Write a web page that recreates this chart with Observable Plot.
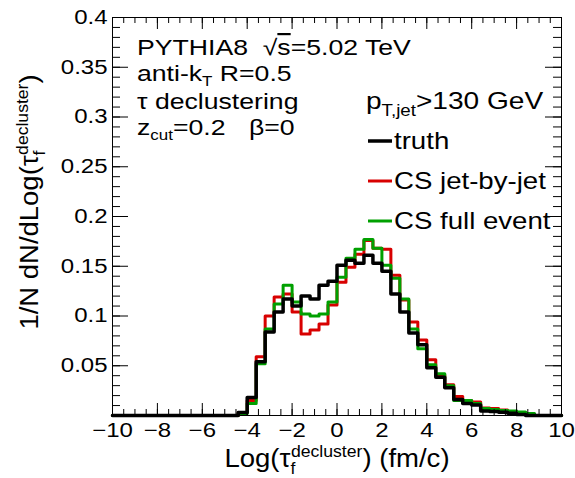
<!DOCTYPE html>
<html><head><meta charset="utf-8">
<script src="https://cdn.jsdelivr.net/npm/d3@7"></script>
<script src="https://cdn.jsdelivr.net/npm/@observablehq/plot@0.6"></script>
<style>
body{margin:0;background:#fff;}
#chart svg{font-family:"Liberation Sans",Arial,Helvetica,sans-serif;}
</style></head><body><div id="chart"></div>
<script>
// Histogram binning: 50 bins of width 0.4 from -10 to 10
const binStart = -10;
const binWidth = 0.4;
const truth = [0,0,0,0,0,0,0,0,0,0,0,0,0,0,
  0.003,0.018,0.054,0.084,0.104,0.117,0.110,0.120,0.117,0.131,0.135,0.151,0.156,0.153,0.161,0.153,0.145,0.122,0.104,0.083,0.071,0.048,0.0385,0.028,0.016,0.012,0.0105,0.0045,0.004,0.0033,0.0023,0.001,0,
  0,0,0];
const csJetByJet = [0,0,0,0,0,0,0,0,0,0,0,0,0,0,
  0.003,0.015,0.059,0.100,0.119,0.122,0.104,0.082,0.086,0.092,0.111,0.134,0.149,0.162,0.176,0.168,0.167,0.141,0.116,0.094,0.076,0.056,0.041,0.031,0.019,0.015,0.0135,0.0075,0.007,0.0055,0.004,0.003,0.001,
  0,0,0];
const csFullEvent = [0,0,0,0,0,0,0,0,0,0,0,0,0,0,
  0.002,0.012,0.052,0.087,0.112,0.131,0.114,0.102,0.100,0.102,0.114,0.139,0.158,0.167,0.177,0.168,0.151,0.138,0.117,0.087,0.067,0.051,0.042,0.030,0.015,0.015,0.012,0.007,0.006,0.005,0.0045,0.0035,0.002,
  0,0,0];
const xTickLabels = [-10,-8,-6,-4,-2,0,2,4,6,8,10];
const yTickLabels = [0.05,0.1,0.15,0.2,0.25,0.3,0.35,0.4];
const seriesNames = ["truth","CS jet-by-jet","CS full event"];
const seriesColors = ["#000000","#d80000","#00a000"];

function steps(vals){
  const pts = vals.map((v,i)=>({x: binStart + i*binWidth, y: v}));
  pts.push({x: binStart + vals.length*binWidth, y: vals[vals.length-1]});
  return pts;
}

const W=575, H=478, mL=112, mR=14, mT=17, mB=63;
const PW = W-mL-mR, PH = H-mT-mB;
const xMinor = d3.range(-10, 10.0001, 0.5);
const yMinor = d3.range(0, 0.40001, 0.01);
const fmtX = d => d < 0 ? "\u2212" + Math.abs(d) : String(d);

const plot = Plot.plot({
  width: W, height: H,
  marginLeft: mL, marginRight: mR, marginTop: mT, marginBottom: mB,
  x: {domain: [-10, 10]},
  y: {domain: [0, 0.4]},
  style: {background: "white", fontFamily: '"Liberation Sans",Arial,Helvetica,sans-serif'},
  marks: [
    Plot.line(steps(csJetByJet), {x: "x", y: "y", curve: "step-after", stroke: seriesColors[1], strokeWidth: 3}),
    Plot.line(steps(csFullEvent), {x: "x", y: "y", curve: "step-after", stroke: seriesColors[2], strokeWidth: 3}),
    Plot.line(steps(truth), {x: "x", y: "y", curve: "step-after", stroke: seriesColors[0], strokeWidth: 3.5}),
    Plot.frame({stroke: "black", strokeWidth: 1}),
    Plot.tickX(xMinor, {x: d=>d, insetTop: PH-6, stroke: "black"}),
    Plot.tickX(xMinor, {x: d=>d, insetBottom: PH-6, stroke: "black"}),
    Plot.tickX(xTickLabels, {x: d=>d, insetTop: PH-12, stroke: "black"}),
    Plot.tickX(xTickLabels, {x: d=>d, insetBottom: PH-12, stroke: "black"}),
    Plot.tickY(yMinor, {y: d=>d, insetRight: PW-8, stroke: "black"}),
    Plot.tickY(yMinor, {y: d=>d, insetLeft: PW-8, stroke: "black"}),
    Plot.tickY([0, ...yTickLabels], {y: d=>d, insetRight: PW-16, stroke: "black"}),
    Plot.tickY([0, ...yTickLabels], {y: d=>d, insetLeft: PW-16, stroke: "black"}),
    Plot.axisX({ticks: xTickLabels, tickSize: 0, tickPadding: 7, tickFormat: fmtX, fontSize: 20, label: null, fill: "black"}),
    Plot.axisY({ticks: yTickLabels, tickSize: 0, tickPadding: 5, tickFormat: d => String(d), fontSize: 20, label: null, fill: "black"})
  ]
});
document.getElementById("chart").appendChild(plot);

const svg = d3.select(plot);
const g = svg.append("g").attr("fill", "black");
const toStretch = [];

function rich(x, y, parts, size, opts = {}) {
  const t = g.append("text").attr("x", x).attr("y", y).attr("font-size", size)
    .attr("text-anchor", opts.anchor || "start").style("white-space", "pre");
  if (opts.transform) t.attr("transform", opts.transform);
  parts.forEach(p => {
    const ts = t.append("tspan").text(p.t);
    if (p.size) ts.attr("font-size", p.size);
    if (p.dy) ts.attr("dy", p.dy);
    if (p.dx) ts.attr("dx", p.dx);
    if (p.deco) ts.style("text-decoration", p.deco);
  });
  toStretch.push([t.node(), opts.stretch || 1.15]);
  return t;
}

// Annotation block
rich(137, 55, [{t: "PYTHIA8  \u221A"}, {t: "s", deco: "overline"}, {t: "=5.02 TeV"}], 22, {stretch: 1.21});
rich(137, 81, [{t: "anti-k"}, {t: "T", size: 14, dy: 5}, {t: " R=0.5", dy: -5}], 22, {stretch: 1.21});
rich(137, 109, [{t: "\u03C4 declustering"}], 22, {stretch: 1.21});
rich(137, 135, [{t: "z"}, {t: "cut", size: 14, dy: 5}, {t: "=0.2", dy: -5}], 22, {stretch: 1.21});
rich(249, 135, [{t: "\u03B2=0"}], 22, {stretch: 1.21});

// Legend
rich(366, 109, [{t: "p"}, {t: "T,jet", size: 16, dy: 7}, {t: ">130 GeV", dy: -7}], 24, {stretch: 1.17});
const legY = [141, 181, 221];
seriesNames.forEach((name, i) => {
  g.append("line").attr("x1", 368).attr("x2", 392).attr("y1", legY[i]).attr("y2", legY[i])
    .attr("stroke", seriesColors[i]).attr("stroke-width", i === 0 ? 3.5 : 3);
  rich(394, legY[i] + 8, [{t: name}], 24);
});

// Axis titles
rich(337, 467, [{t: "Log(\u03C4"}, {t: "f", size: 16, dy: 7}, {t: "decluster", size: 16, dy: -17, dx: -4}, {t: ") (fm/c)", dy: 10}], 25, {anchor: "middle", stretch: 1.08});
rich(0, 0, [{t: "1/N dN/dLog(\u03C4"}, {t: "f", size: 16, dy: 7}, {t: "decluster", size: 16, dy: -17, dx: -4}, {t: ")", dy: 10}], 25, {anchor: "middle", stretch: 1.08, transform: "translate(38,202) rotate(-90)"});

// tick labels stretch
svg.selectAll('g[aria-label="x-axis tick label"] text, g[aria-label="y-axis tick label"] text').each(function(){ toStretch.push([this, 1.2]); });

toStretch.forEach(([el, f]) => {
  const len = el.getComputedTextLength();
  if (len > 0) {
    el.setAttribute("textLength", len * f);
    el.setAttribute("lengthAdjust", "spacingAndGlyphs");
  }
});
</script></body></html>
